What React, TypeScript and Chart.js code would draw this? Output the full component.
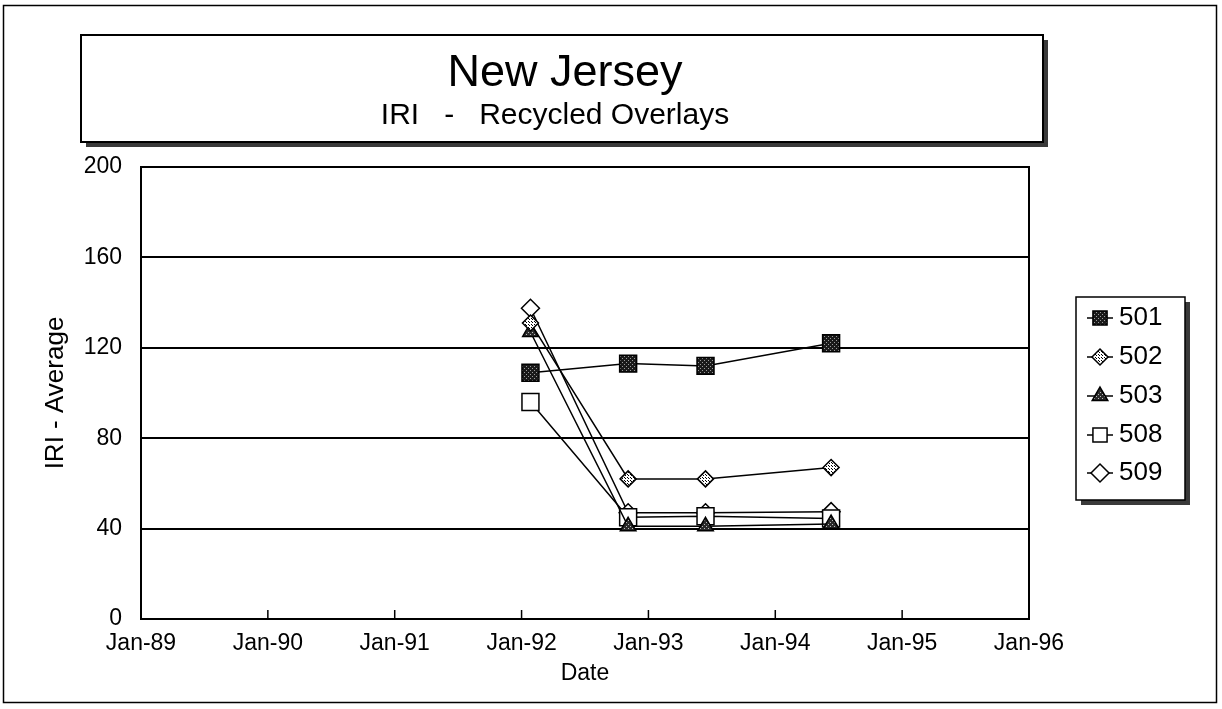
import React, { useEffect, useRef } from "react";
import { Chart, registerables } from "chart.js";
import { drawPoint } from "chart.js/helpers";

Chart.register(...registerables);

const W = 1222;
const H = 709;
const FONT = "'Liberation Sans', Arial, sans-serif";

// ---- data ----
const surveyDates = [1992.07, 1992.84, 1993.45, 1994.44];
const sectionNames = ["501", "502", "503", "508", "509"];
const iri501 = [109, 113, 112, 122];
const iri502 = [131, 62, 62, 67];
const iri503 = [127, 41, 41, 42];
const iri508 = [96, 45, 45.5, 44.5];
const iri509 = [137.5, 47, 47, 47.5];
const xTickYears = [1989, 1990, 1991, 1992, 1993, 1994, 1995, 1996];
const xTickLabels = ["Jan-89", "Jan-90", "Jan-91", "Jan-92", "Jan-93", "Jan-94", "Jan-95", "Jan-96"];
const yTicks = [0, 40, 80, 120, 160, 200];

function dotPattern(bg: string, fg: string, step: number) {
  const c = document.createElement("canvas");
  c.width = step;
  c.height = step;
  const g = c.getContext("2d")!;
  g.fillStyle = bg;
  g.fillRect(0, 0, step, step);
  g.fillStyle = fg;
  g.fillRect(0, 0, 1, 1);
  g.fillRect(Math.floor(step / 2), Math.floor(step / 2), 1, 1);
  const ctx = document.createElement("canvas").getContext("2d")!;
  return ctx.createPattern(c, "repeat") as CanvasPattern;
}

export default function App() {
  const ref = useRef<HTMLCanvasElement | null>(null);

  useEffect(() => {
    document.body.style.margin = "0";
    const canvas = ref.current!;
    const pat501 = dotPattern("#1a1a1a", "#9a9a9a", 4);
    const pat502 = dotPattern("#ffffff", "#000000", 3);
    const pat503 = dotPattern("#2a2a2a", "#bbbbbb", 4);

    const series = [
      { name: sectionNames[0], values: iri501, style: "rect", radius: 12, fill: pat501, lr: 10 },
      { name: sectionNames[1], values: iri502, style: "rectRot", radius: 8, fill: pat502, lr: 8 },
      { name: sectionNames[2], values: iri503, style: "triangle", radius: 9, fill: pat503, lr: 9 },
      { name: sectionNames[3], values: iri508, style: "rect", radius: 12, fill: "#ffffff", lr: 10 },
      { name: sectionNames[4], values: iri509, style: "rectRot", radius: 9, fill: "#ffffff", lr: 9 },
    ];

    const framePlugin = {
      id: "frame",
      beforeDraw(chart: any) {
        const ctx = chart.ctx as CanvasRenderingContext2D;
        ctx.save();
        ctx.fillStyle = "#fff";
        ctx.fillRect(0, 0, W, H);
        // outer border
        ctx.strokeStyle = "#000";
        ctx.lineWidth = 1.5;
        ctx.strokeRect(3.5, 5.5, 1213, 697);
        // title box with shadow
        ctx.fillStyle = "#3a3a3a";
        ctx.fillRect(86, 40, 962, 107);
        ctx.fillStyle = "#fff";
        ctx.fillRect(81, 35, 962, 107);
        ctx.lineWidth = 2;
        ctx.strokeRect(81, 35, 962, 107);
        // title text
        ctx.fillStyle = "#000";
        ctx.textAlign = "center";
        ctx.textBaseline = "alphabetic";
        ctx.font = `45px ${FONT}`;
        ctx.fillText("New Jersey", 565, 86);
        ctx.font = `30px ${FONT}`;
        ctx.fillText("IRI   -   Recycled Overlays", 555, 124);
        ctx.restore();
      },
      afterDraw(chart: any) {
        const ctx = chart.ctx as CanvasRenderingContext2D;
        const a = chart.chartArea;
        const xs = chart.scales.x;
        ctx.save();
        ctx.strokeStyle = "#000";
        ctx.lineWidth = 2;
        ctx.strokeRect(a.left, a.top, a.right - a.left, a.bottom - a.top);
        // inward tick marks
        ctx.lineWidth = 1.5;
        xTickYears.forEach((yr) => {
          const px = xs.getPixelForValue(yr);
          ctx.beginPath();
          ctx.moveTo(px, a.bottom);
          ctx.lineTo(px, a.bottom - 9);
          ctx.stroke();
        });
        // legend
        const lx = 1076, ly = 297, lw = 109, lh = 203;
        ctx.fillStyle = "#3a3a3a";
        ctx.fillRect(lx + 5, ly + 5, lw, lh);
        ctx.fillStyle = "#fff";
        ctx.fillRect(lx, ly, lw, lh);
        ctx.lineWidth = 1.5;
        ctx.strokeRect(lx, ly, lw, lh);
        const rowY = [318, 357, 396, 435, 473];
        chart.data.datasets.forEach((ds: any, i: number) => {
          const y = rowY[i];
          const mx = 1100;
          ctx.strokeStyle = "#000";
          ctx.lineWidth = 1.5;
          ctx.beginPath();
          ctx.moveTo(mx - 13, y);
          ctx.lineTo(mx + 13, y);
          ctx.stroke();
          ctx.fillStyle = ds.pointBackgroundColor;
          ctx.strokeStyle = "#000";
          drawPoint(ctx, { pointStyle: ds.pointStyle, radius: series[i].lr, rotation: 0, borderWidth: 1.5 } as any, mx, y);
          ctx.fillStyle = "#000";
          ctx.font = `26px ${FONT}`;
          ctx.textAlign = "left";
          ctx.textBaseline = "middle";
          ctx.fillText(ds.label, 1119, y);
        });
        ctx.restore();
      },
    };

    const chart = new Chart(canvas, {
      type: "line",
      data: {
        datasets: series.map((s) => ({
          label: s.name,
          data: surveyDates.map((x, i) => ({ x, y: s.values[i] })),
          borderColor: "#000",
          borderWidth: 1.5,
          pointStyle: s.style as any,
          pointRadius: s.radius,
          pointHoverRadius: s.radius,
          pointBackgroundColor: s.fill as any,
          pointBorderColor: "#000",
          pointBorderWidth: 1.5,
          tension: 0,
          fill: false,
        })),
      },
      options: {
        responsive: false,
        animation: false,
        devicePixelRatio: 1,
        layout: { padding: { left: 0, top: 167, right: 193, bottom: 0 } },
        plugins: { legend: { display: false }, tooltip: { enabled: false }, title: { display: false } },
        scales: {
          x: {
            type: "linear",
            min: 1989,
            max: 1996,
            afterFit: (s: any) => { s.height = 90; },
            afterBuildTicks: (s: any) => { s.ticks = xTickYears.map((v) => ({ value: v })); },
            grid: { display: false, drawTicks: false },
            border: { display: false },
            ticks: {
              color: "#000",
              font: { family: FONT, size: 23 },
              padding: 11,
              maxRotation: 0,
              autoSkip: false,
              callback: (v: any) => xTickLabels[xTickYears.indexOf(Number(v))],
            },
            title: { display: true, text: "Date", color: "#000", font: { family: FONT, size: 23 }, padding: { top: 0, bottom: 22 } },
          },
          y: {
            type: "linear",
            min: 0,
            max: 200,
            afterFit: (s: any) => { s.width = 141; },
            afterBuildTicks: (s: any) => { s.ticks = yTicks.map((v) => ({ value: v })); },
            grid: { color: "#000", lineWidth: 2, drawTicks: false },
            border: { display: false },
            ticks: { color: "#000", font: { family: FONT, size: 23 }, padding: 19 },
            title: { display: true, text: "IRI - Average", color: "#000", font: { family: FONT, size: 26 }, padding: { top: 40, bottom: 0 } },
          },
        },
      },
      plugins: [framePlugin],
    });
    return () => chart.destroy();
  }, []);

  return (
    <div style={{ position: "fixed", left: 0, top: 0, width: W, height: H, background: "#fff" }}>
      <canvas ref={ref} width={W} height={H} style={{ display: "block", width: W, height: H }} />
    </div>
  );
}
